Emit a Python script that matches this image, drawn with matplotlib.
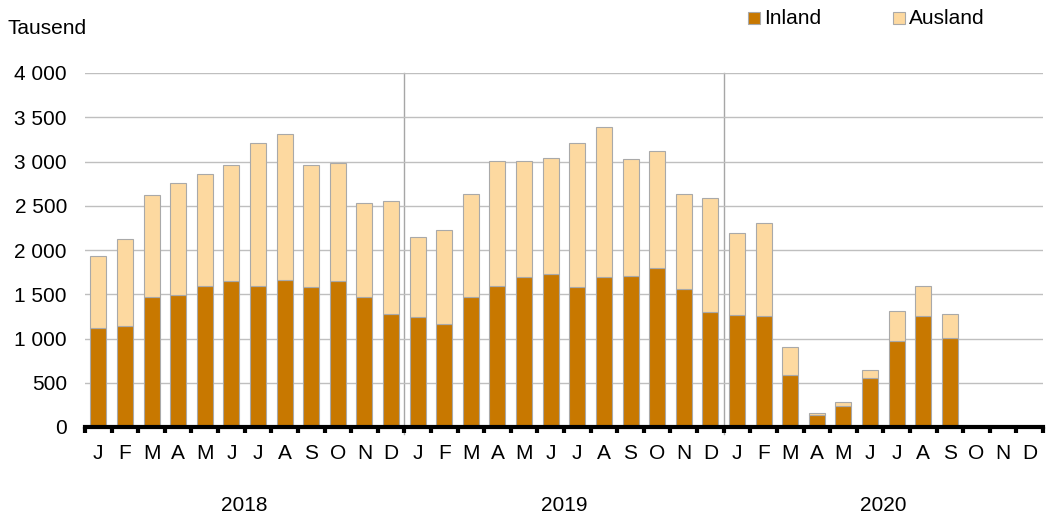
"""
Monthly overnight stays, Inland vs Ausland, 2018-2020
"""
import numpy as np
import matplotlib.pyplot as plt
from matplotlib.patches import Rectangle

plt.rcParams['font.family'] = ['Liberation Sans', 'DejaVu Sans']

months = ['J', 'F', 'M', 'A', 'M', 'J', 'J', 'A', 'S', 'O', 'N', 'D']
years = ['2018', '2019', '2020']

# totals (Inland + Ausland) and Inland, in thousands; Oct-Dec 2020 missing
total = [1933, 2129, 2625, 2761, 2855, 2957, 3205, 3307, 2957, 2983, 2532, 2551,
         2151, 2230, 2633, 3002, 3002, 3043, 3209, 3393, 3028, 3115, 2637, 2592,
         2196, 2306, 902, 161, 282, 647, 1316, 1598, 1275, 0, 0, 0]
inland = [1124, 1143, 1471, 1493, 1591, 1655, 1591, 1666, 1584, 1655, 1467, 1275,
          1245, 1162, 1471, 1591, 1696, 1730, 1584, 1696, 1704, 1798, 1557, 1305,
          1271, 1252, 586, 132, 240, 557, 977, 1252, 1004, 0, 0, 0]
ausland = [t - i for t, i in zip(total, inland)]

c_in = '#C87800'
c_aus = '#FDD9A0'
c_edge = '#A9A9A9'
W, H = 1046, 521
fs = 15

fig = plt.figure(figsize=(W / 100, H / 100), dpi=100)
ax = fig.add_axes([85 / W, 1 - 427 / H, 958 / W, 354 / H])

n = len(total)
x = np.arange(n)
has = np.array(total) > 0
ax.bar(x[has], np.array(inland)[has], width=0.6, color=c_in,
       edgecolor=c_edge, linewidth=0.8, zorder=3)
ax.bar(x[has], np.array(ausland)[has], width=0.6, bottom=np.array(inland)[has],
       color=c_aus, edgecolor=c_edge, linewidth=0.8, zorder=3)

ax.set_xlim(-0.5, n - 0.5)
ax.set_ylim(0, 4000)

# y axis
yt = np.arange(0, 4001, 500)
ax.set_yticks(yt)
ax.set_yticklabels([f'{v:,}'.replace(',', ' ') for v in yt], fontsize=fs)
ax.tick_params(axis='y', length=0, pad=13)
ax.grid(axis='y', color='#BFBFBF', linewidth=1, zorder=0)

# x axis: ticks between months, labels at centres
ax.set_xticks(np.arange(-0.5, n, 1))
ax.set_xticklabels([])
ax.tick_params(axis='x', which='major', length=4, width=3, color='black',
               direction='out')
ax.set_xticks(x, minor=True)
ax.set_xticklabels(months * 3, minor=True, fontsize=fs)
ax.tick_params(axis='x', which='minor', length=0, pad=12)

for s in ['left', 'right', 'top']:
    ax.spines[s].set_visible(False)
ax.spines['bottom'].set_linewidth(3)
ax.spines['bottom'].set_zorder(5)

# year separators and year labels
for b in [11.5, 23.5]:
    ax.axvline(b, ymin=-0.02, ymax=1, color='#A6A6A6', linewidth=1,
               clip_on=False, zorder=1)
for k, yr in enumerate(years):
    ax.text(k * 12 + 5.5, -0.222, yr, transform=ax.get_xaxis_transform(),
            ha='center', va='center', fontsize=fs)

fig.text(8 / W, 1 - 28 / H, 'Tausend', ha='left', va='center', fontsize=fs)

# legend drawn by hand to match the reference placement
for x0, col, lab in [(748, c_in, 'Inland'), (893, c_aus, 'Ausland')]:
    fig.patches.append(Rectangle((x0 / W, 1 - 24 / H), 12 / W, 12 / H,
                                 transform=fig.transFigure, facecolor=col,
                                 edgecolor=c_edge, linewidth=0.8))
    fig.text((x0 + 16) / W, 1 - 18 / H, lab, ha='left', va='center',
             fontsize=fs)

plt.savefig('out.png', dpi=100)
